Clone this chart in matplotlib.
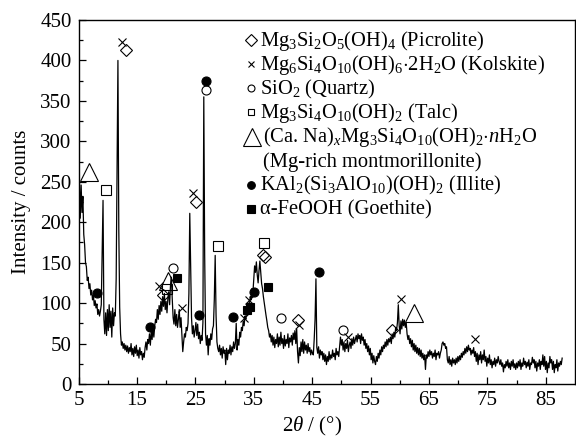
import numpy as np
import matplotlib.pyplot as plt

plt.rcParams["font.family"] = ["Liberation Serif", "DejaVu Serif"]
plt.rcParams["mathtext.fontset"] = "custom"
plt.rcParams["mathtext.rm"] = "Liberation Serif"
plt.rcParams["mathtext.it"] = "Liberation Serif:italic"
plt.rcParams["mathtext.bf"] = "Liberation Serif:bold"

# ===== SCAN (start angle, step, counts) =====
SCAN_START = 5.0
SCAN_STEP = 0.15
counts = [
    240, 252, 205, 246, 212, 232, 185, 172, 150, 145,   # 5.0
    128, 132, 118, 124, 110, 116, 104, 110, 97, 103,    # 6.5
    94, 99, 86, 92, 84, 90, 98, 165, 227, 80,           # 8.0
    62, 88, 60, 92, 66, 98, 70, 90, 58, 94,             # 9.5
    72, 88, 84, 130, 270, 400, 190, 95, 62, 48,         # 11.0
    52, 44, 50, 42, 48, 40, 47, 38, 45, 40,             # 12.5
    50, 36, 44, 34, 46, 38, 48, 35, 42, 32,             # 14.0
    45, 36, 40, 30, 38, 33, 45, 52, 42, 55,             # 15.5
    50, 62, 48, 65, 55, 70, 58, 72, 80, 76,             # 17.0
    92, 80, 97, 86, 102, 90, 108, 96, 112, 92,          # 18.5
    102, 88, 106, 114, 98, 122, 132, 105, 82, 74,       # 20.0
    92, 72, 86, 70, 80, 92, 70, 82, 60, 40,             # 21.5
    52, 62, 58, 70, 66, 75, 112, 211, 150, 82,          # 23.0
    62, 72, 58, 66, 76, 60, 74, 56, 64, 50,             # 24.5
    60, 54, 76, 355, 160, 62, 48, 60, 36, 56,           # 26.0
    48, 62, 55, 68, 72, 105, 159, 85, 52, 44,           # 27.5
    40, 48, 36, 44, 32, 46, 38, 42, 24, 44,             # 29.0
    30, 42, 38, 48, 36, 46, 40, 52, 44, 50,             # 30.5
    75, 42, 55, 48, 64, 58, 70, 66, 78, 72,             # 32.0
    84, 80, 92, 88, 100, 96, 108, 104, 118, 112,        # 33.5
    128, 146, 138, 151, 135, 125, 140, 152, 138, 124,   # 35.0
    118, 108, 100, 92, 85, 78, 70, 66, 58, 62,          # 36.5
    52, 60, 48, 58, 45, 55, 50, 62, 46, 58,             # 38.0
    48, 64, 50, 56, 44, 60, 47, 55, 50, 62,             # 39.5
    45, 57, 52, 60, 48, 63, 55, 66, 50, 68,             # 41.0
    40, 26, 45, 35, 52, 40, 55, 38, 52, 42,             # 42.5
    48, 38, 50, 40, 45, 36, 42, 38, 36, 55,             # 44.0
    80, 130, 45, 38, 46, 32, 42, 36, 40, 30,            # 45.5
    38, 28, 36, 24, 34, 28, 40, 30, 36, 32,             # 47.0
    42, 34, 38, 30, 44, 36, 40, 34, 46, 58,             # 48.5
    48, 55, 42, 52, 40, 50, 44, 54, 40, 48,             # 50.0
    52, 44, 56, 48, 58, 50, 55, 60, 52, 62,             # 51.5
    56, 60, 50, 62, 54, 58, 48, 55, 44, 50,             # 53.0
    40, 47, 36, 44, 30, 38, 26, 35, 28, 24,             # 54.5
    34, 28, 38, 32, 42, 36, 46, 40, 48, 44,             # 56.0
    52, 46, 55, 48, 56, 52, 58, 50, 62, 56,             # 57.5
    64, 58, 70, 66, 76, 98, 72, 62, 78, 68,             # 59.0
    80, 72, 79, 70, 76, 62, 55, 60, 50, 56,             # 60.5
    46, 54, 42, 50, 40, 48, 38, 45, 36, 44,             # 62.0
    34, 42, 32, 38, 30, 36, 18, 36, 32, 40,             # 63.5
    34, 42, 36, 40, 32, 38, 34, 42, 30, 38,             # 65.0
    36, 40, 32, 38, 42, 50, 52, 48, 50, 44,             # 66.5
    46, 30, 26, 34, 24, 30, 22, 32, 26, 30,             # 68.0
    24, 32, 26, 34, 28, 35, 30, 38, 33, 40,             # 69.5
    36, 44, 38, 46, 40, 48, 42, 44, 36, 42,             # 71.0
    38, 45, 34, 40, 28, 38, 24, 36, 30, 40,             # 72.5
    26, 36, 30, 42, 28, 34, 22, 32, 26, 36,             # 74.0
    24, 30, 20, 28, 24, 32, 22, 30, 26, 34,             # 75.5
    28, 24, 30, 22, 26, 15, 24, 20, 28, 22,             # 77.0
    30, 20, 26, 18, 28, 22, 30, 20, 25, 18,             # 78.5
    26, 20, 28, 22, 30, 18, 26, 22, 32, 24,             # 80.0
    28, 20, 27, 22, 30, 18, 26, 24, 33, 26,             # 81.5
    30, 20, 28, 16, 26, 22, 30, 18, 28, 24,             # 83.0
    36, 22, 34, 18, 28, 14, 26, 20, 34, 26,             # 84.5
    30, 18, 28, 14, 24, 20, 30, 16, 26, 22,             # 86.0
    28, 24, 32,                                         # 87.5
]
tth = SCAN_START + SCAN_STEP * np.arange(len(counts))

# ===== PHASE MARKERS (2theta, intensity) =====
picrolite_x = [13.1, 25.1, 19.4, 36.55, 37.0, 42.5, 58.7]
picrolite_y = [413, 225, 110, 160, 157, 79, 67]
kolskite_x = [12.45, 24.55, 18.8, 22.65, 33.4, 34.2, 42.8, 51.1, 60.2, 72.8]
kolskite_y = [423, 236, 121, 94, 82, 104, 73, 58, 105, 56]
quartz_x = [26.9, 21.1, 39.6, 50.3]
quartz_y = [363, 143, 81, 67]
talc_x = [9.7, 28.9, 36.8, 20.1]
talc_y = [240, 170, 174, 117]
montmor_x = [6.85, 20.4, 62.4]
montmor_y = [262, 127, 88]
illite_x = [8.1, 17.3, 25.6, 26.9, 31.4, 35.1, 46.1]
illite_y = [113, 71, 85, 375, 83, 114, 139]
goethite_x = [21.8, 33.8, 34.3, 37.4]
goethite_y = [131, 92, 95, 120]

legend_labels = [
    r"$\mathrm{Mg_3Si_2O_5(OH)_4}$ (Picrolite)",
    r"$\mathrm{Mg_6Si_4O_{10}(OH)_6{\cdot}2H_2O}$ (Kolskite)",
    r"$\mathrm{SiO_2}$ (Quartz)",
    r"$\mathrm{Mg_3Si_4O_{10}(OH)_2}$ (Talc)",
    r"(Ca. Na)$_x\mathrm{Mg_3Si_4O_{10}(OH)_2{\cdot}}n\mathrm{H_2O}$",
    "(Mg-rich montmorillonite)",
    r"$\mathrm{KAl_2(Si_3AlO_{10})(OH)_2}$ (Illite)",
    "α-FeOOH (Goethite)",
]

# marker style per phase: (marker, size on chart, size in legend, filled)
styles = [
    ("D", 6.5, 6.5, False),
    ("x", 5.5, 4.5, False),
    ("o", 6.5, 5.0, False),
    ("s", 6.5, 5.0, False),
    ("^", 12.5, 12.5, False),
    (None, 0, 0, False),
    ("o", 6.5, 5.5, True),
    ("s", 6.0, 5.5, True),
]
phase_points = [
    (picrolite_x, picrolite_y),
    (kolskite_x, kolskite_y),
    (quartz_x, quartz_y),
    (talc_x, talc_y),
    (montmor_x, montmor_y),
    None,
    (illite_x, illite_y),
    (goethite_x, goethite_y),
]

fig = plt.figure(figsize=(5.76, 4.4), dpi=100)
ax = fig.add_axes([78.5 / 576, 1 - 384 / 440, 496.5 / 576, 364 / 440])

ax.plot(tth, counts, color="black", lw=0.9)

for pts, (mk, ms, _, filled) in zip(phase_points, styles):
    if pts is None:
        continue
    ax.plot(pts[0], pts[1], ls="none", marker=mk, ms=ms,
            mfc="black" if filled else "none", mec="black", mew=0.8)

# legend drawn by hand so rows line up like the original
W, H = 496.5, 364.0
for i, (label, (mk, _, lms, filled)) in enumerate(zip(legend_labels, styles)):
    base = 46 + 24.1 * i
    yb = (384 - base) / H
    if mk is not None:
        ym = (384 - (base - 6)) / H
        xm = (251 - 78.5) / W if mk != "^" else (252 - 78.5) / W
        if mk == "^":
            ym = (384 - (base - 5)) / H
        ax.plot([xm], [ym], transform=ax.transAxes, clip_on=False, ls="none",
                marker=mk, ms=lms, mfc="black" if filled else "none",
                mec="black", mew=0.8)
    xt = (260 - 78.5) / W if i not in (4, 5) else (263 - 78.5) / W
    ax.text(xt, yb, label, transform=ax.transAxes, fontsize=14.8,
            ha="left", va="baseline")

ax.set_xlim(5, 90)
ax.set_ylim(0, 450)
ax.set_xticks(np.arange(5, 90, 10))
ax.set_xticks(np.arange(10, 90, 10), minor=True)
ax.set_yticks(np.arange(0, 451, 50))
ax.set_yticks(np.arange(25, 450, 50), minor=True)
ax.tick_params(which="both", direction="in", labelsize=15, width=0.9)
ax.tick_params(which="major", length=5)
ax.tick_params(which="minor", length=3)
ax.tick_params(axis="x", pad=5)
ax.tick_params(axis="y", pad=5)
for s in ax.spines.values():
    s.set_linewidth(1.0)

ax.set_ylabel("Intensity / counts", fontsize=15)
ax.set_xlabel(r"$\mathit{2θ}$ / (°)", fontsize=15)
ax.yaxis.set_label_coords(-0.096, 0.5)
ax.xaxis.set_label_coords(0.47, -0.085)

fig.savefig("out.png", dpi=100)
